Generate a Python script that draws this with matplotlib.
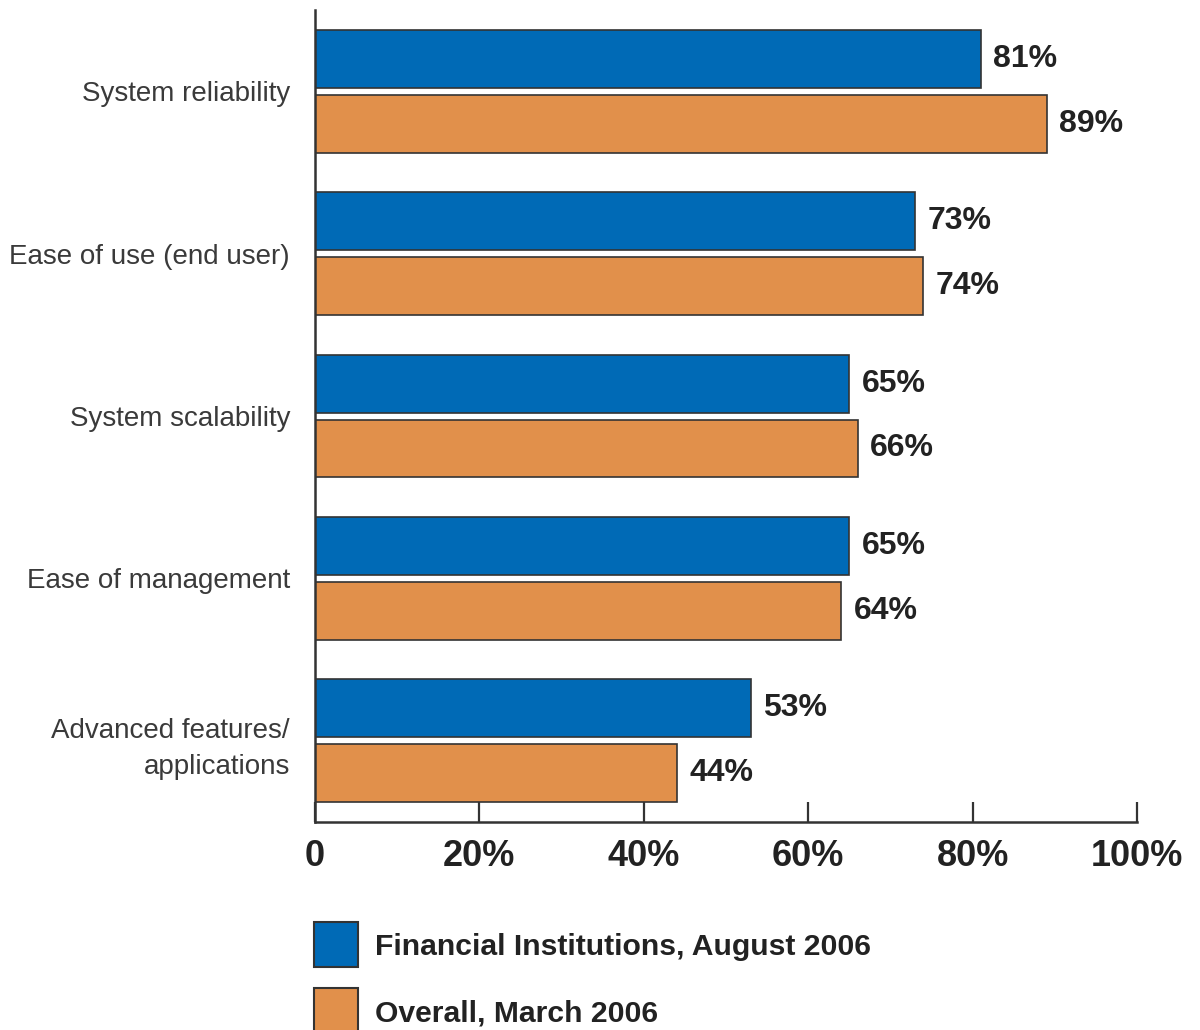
import numpy as np
import matplotlib.pyplot as plt
from matplotlib.patches import Rectangle

# survey answers, one entry per criterion
criteria = ["System reliability", "Ease of use (end user)", "System scalability",
            "Ease of management", "Advanced features/\napplications"]
financial = [81, 73, 65, 65, 53]
overall = [89, 74, 66, 64, 44]
series_names = ["Financial Institutions, August 2006", "Overall, March 2006"]
tick_values = [0, 20, 40, 60, 80, 100]
tick_labels = ["0", "20%", "40%", "60%", "80%", "100%"]

blue = "#006ab6"
orange = "#e1904b"
edge = "#333333"

plt.rcParams['font.family'] = ['Liberation Sans', 'DejaVu Sans']

fig = plt.figure(figsize=(12, 10.3), dpi=100)
ax = fig.add_axes([0.2625, 0.2019, 0.685, 0.7884])

y = np.arange(len(criteria))
h = 0.357
off = 0.2
ax.barh(y - off, financial, height=h, color=blue, edgecolor=edge, linewidth=1.2)
ax.barh(y + off, overall, height=h, color=orange, edgecolor=edge, linewidth=1.2)

# value labels next to each bar
for yi, v in zip(y - off, financial):
    ax.text(v + 1.5, yi, f"{v}%", va="center", ha="left", fontsize=23,
            fontweight="bold", color="#222222")
for yi, v in zip(y + off, overall):
    ax.text(v + 1.5, yi, f"{v}%", va="center", ha="left", fontsize=23,
            fontweight="bold", color="#222222")

ax.set_xlim(0, 100)
ax.set_ylim(len(criteria) - 0.5, -0.5)
ax.set_xticks(tick_values)
ax.set_xticklabels(tick_labels, fontsize=26, fontweight="bold", color="#222222")
ax.tick_params(axis="x", direction="in", length=14.5, width=1.6, pad=12,
               color="#333333")
ax.set_yticks(y)
ax.set_yticklabels(criteria, fontsize=20, color="#3a3a3a", linespacing=1.5)
ax.tick_params(axis="y", length=0, pad=18)

for s in ["top", "right"]:
    ax.spines[s].set_visible(False)
for s in ["left", "bottom"]:
    ax.spines[s].set_linewidth(1.8)
    ax.spines[s].set_color("#333333")

# legend drawn below the axis
for i, (name, col) in enumerate(zip(series_names, [blue, orange])):
    top = 922 + i * 66
    fig.add_artist(Rectangle((314 / 1200, 1 - (top + 45) / 1030), 44 / 1200, 45 / 1030,
                             transform=fig.transFigure, facecolor=col,
                             edgecolor=edge, linewidth=1.5))
    fig.text(375 / 1200, 1 - (top + 25) / 1030, name, fontsize=21.7,
             fontweight="bold", color="#222222", va="center", ha="left")

fig.savefig("out.png", dpi=100, facecolor="white")
